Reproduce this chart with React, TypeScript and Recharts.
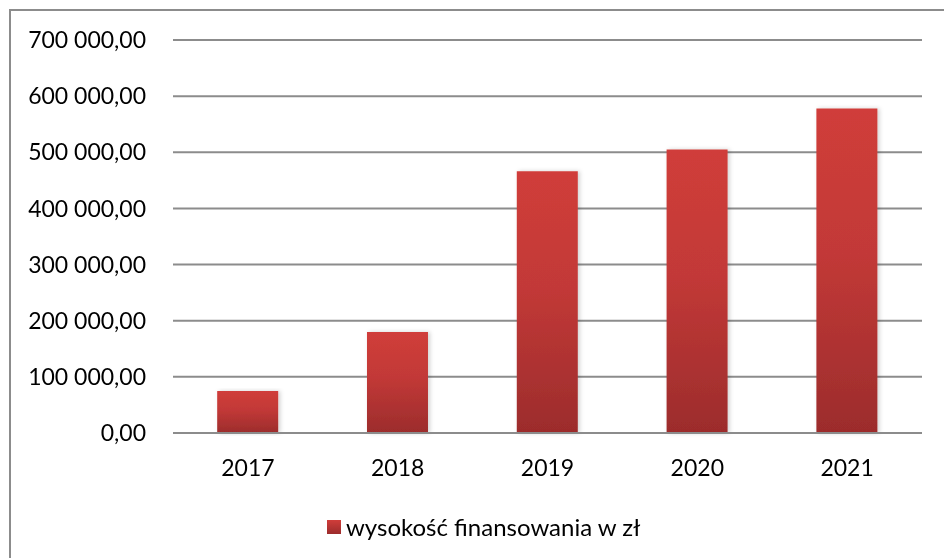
import React from "react";
import { BarChart, Bar, XAxis, YAxis, CartesianGrid } from "recharts";

const years = ["2017", "2018", "2019", "2020", "2021"];
const funding = [75000, 180000, 466000, 505000, 578000];
const yTicks = [0, 100000, 200000, 300000, 400000, 500000, 600000, 700000];
const seriesName = "wysokość finansowania w zł";

const data = years.map((year, i) => ({ year, value: funding[i] }));

const font = "Lato, 'Open Sans', sans-serif";

const formatPl = (v: number) => {
  const int = Math.round(v)
    .toString()
    .replace(/\B(?=(\d{3})+(?!\d))/g, " ");
  return `${int},00`;
};

export default function App() {
  return (
    <div style={{ position: "relative", width: 936, height: 550, fontFamily: font }}>
      <div
        style={{
          position: "fixed",
          left: 9,
          top: 9,
          width: 1200,
          height: 1200,
          border: "2px solid #8c8c8c",
          boxSizing: "border-box",
        }}
      />
      <svg width={0} height={0} style={{ position: "absolute" }}>
        <defs>
          <linearGradient id="barFill" x1="0" y1="0" x2="0" y2="1">
            <stop offset="0%" stopColor="#d03d3a" />
            <stop offset="45%" stopColor="#c23937" />
            <stop offset="100%" stopColor="#9c2c2c" />
          </linearGradient>
          <filter id="barShadow" x="-20%" y="-5%" width="140%" height="110%">
            <feDropShadow dx="2" dy="0" stdDeviation="2" floodColor="#000" floodOpacity="0.18" />
          </filter>
        </defs>
      </svg>
      <BarChart
        width={936}
        height={500}
        data={data}
        margin={{ top: 32, right: 22, left: 0, bottom: 30 }}
        barCategoryGap="29.5%"
        style={{ position: "absolute", left: 0, top: 0 }}
      >
        <CartesianGrid vertical={false} stroke="#8c8c8c" strokeWidth={2} />
        <XAxis
          dataKey="year"
          axisLine={{ stroke: "#8c8c8c", strokeWidth: 2 }}
          tickLine={false}
          tickSize={0}
          tickMargin={27}
          height={45}
          tick={{ fill: "#000", fontSize: 23, fontFamily: font }}
        />
        <YAxis
          domain={[0, 700000]}
          ticks={yTicks}
          tickFormatter={formatPl}
          axisLine={false}
          tickLine={false}
          tickSize={0}
          tickMargin={27}
          width={165}
          tick={{ fill: "#000", fontSize: 23, fontFamily: font }}
        />
        <Bar
          dataKey="value"
          name={seriesName}
          fill="url(#barFill)"
          filter="url(#barShadow)"
          isAnimationActive={false}
        />
      </BarChart>
      <div
        style={{
          position: "absolute",
          left: 319,
          top: 504,
          display: "flex",
          alignItems: "center",
          fontSize: 24,
          color: "#000",
        }}
      >
        <span
          style={{
            display: "inline-block",
            width: 14,
            height: 14,
            marginRight: 5,
            background: "linear-gradient(#d03d3a, #9c2c2c)",
          }}
        />
        {seriesName}
      </div>
    </div>
  );
}
